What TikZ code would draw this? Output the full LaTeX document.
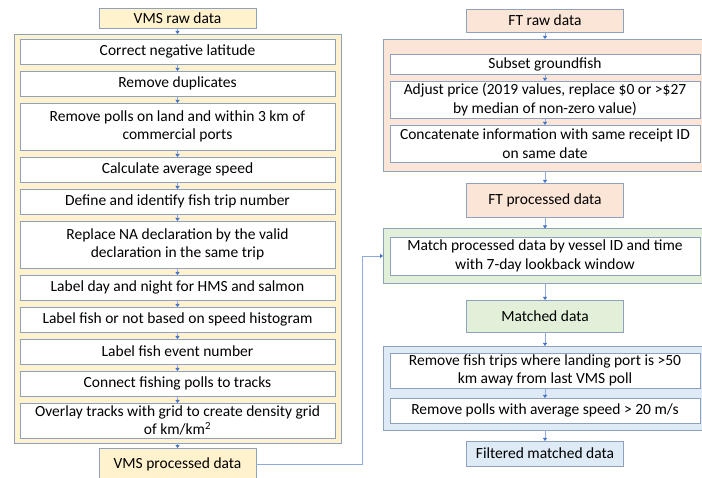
\documentclass[tikz,border=0pt]{standalone}
\usepackage{fontspec}
\setmainfont{Carlito}
\usetikzlibrary{arrows.meta, positioning, fit, backgrounds}
\definecolor{cYel}{HTML}{FFF2CC}
\definecolor{cOra}{HTML}{FBE5D6}
\definecolor{cGrn}{HTML}{E2F0D9}
\definecolor{cBlu}{HTML}{DEEBF7}
\definecolor{cEdge}{HTML}{8EA2BF}
\definecolor{cLine}{HTML}{8FAADC}
\definecolor{cTip}{HTML}{4472C4}

\begin{document}
\begin{tikzpicture}[
  x=1pt, y=-1pt,
  font=\fontsize{15.5}{18.5}\selectfont,
  dat/.style={rectangle, draw=cEdge, line width=0.9pt, fill=#1, minimum width=157pt,
              inner sep=1pt, outer sep=0pt, align=center},
  stepL/.style={rectangle, draw=cEdge, line width=0.9pt, fill=white, minimum width=315pt,
                minimum height=25pt, inner sep=1pt, outer sep=0pt, align=center},
  stepR/.style={stepL, minimum width=310pt},
  group/.style={draw=cEdge, line width=0.9pt, fill=#1, outer sep=0pt},
  flow/.style={-{Triangle[length=3pt, width=4pt, color=cTip]}, line width=0.9pt, draw=cLine},
]
\useasboundingbox (0,0) rectangle (702,478);

% =========================== LEFT : VMS ===========================
\node[dat=cYel, minimum height=20pt] (vraw) at (177.5,18) {VMS raw data};
\node[stepL, below=11pt of vraw] (v1) {Correct negative latitude};
\node[stepL, below=7pt of v1]  (v2) {Remove duplicates};
\node[stepL, below=7pt of v2, minimum height=47pt] (v3) {Remove polls on land and within 3 km of\\commercial ports};
\node[stepL, below=7pt of v3]  (v4) {Calculate average speed};
\node[stepL, below=7pt of v4]  (v5) {Define and identify fish trip number};
\node[stepL, below=7pt of v5, minimum height=47pt] (v6) {Replace NA declaration by the valid\\declaration in the same trip};
\node[stepL, below=7pt of v6]  (v7) {Label day and night for HMS and salmon};
\node[stepL, below=7pt of v7]  (v8) {Label fish or not based on speed histogram};
\node[stepL, below=7pt of v8]  (v9) {Label fish event number};
\node[stepL, below=7pt of v9]  (v10) {Connect fishing polls to tracks};
\node[stepL, below=7pt of v10, minimum height=35pt] (v11) {Overlay tracks with grid to create density grid\\of km/km\textsuperscript{2}};
\node[dat=cYel, below=10pt of v11, minimum height=32pt] (vproc) {VMS processed data};

\begin{scope}[on background layer]
  \node[group=cYel, fit=(v1)(v11), inner xsep=6pt, inner ysep=5pt] (vbox) {};
\end{scope}

\draw[flow] (vraw.south) -- (vbox.north);
\foreach \a/\b in {v1/v2, v2/v3, v3/v4, v4/v5, v5/v6, v6/v7, v7/v8, v8/v9, v9/v10, v10/v11}
  \draw[flow] (\a) -- (\b);
\draw[flow] (vbox.south) -- (vproc.north);

% =========================== RIGHT : FT ===========================
\node[dat=cOra, minimum height=23pt] (ftraw) at (545,20.5) {FT raw data};
\node[stepR, below=22pt of ftraw, minimum height=20pt] (osub) {Subset groundfish};
\node[stepR, below=7pt of osub, minimum height=37pt] (oadj) {Adjust price (2019 values, replace \$0 or >\$27\\by median of non-zero value)};
\node[stepR, below=7pt of oadj, minimum height=37pt] (ocat) {Concatenate information with same receipt ID\\on same date};
\coordinate[above=6pt of osub] (otop);
\node[dat=cOra, below=21pt of ocat, minimum height=34pt] (ftproc) {FT processed data};

\node[stepR, below=20pt of ftproc, minimum height=38pt] (gmatch) {Match processed data by vessel ID and time\\with 7-day lookback window};
\node[dat=cGrn, below=25pt of gmatch, minimum height=32pt] (matched) {Matched data};

\node[stepR, below=21pt of matched, minimum height=35pt] (bdist) {Remove fish trips where landing port is >50\\km away from last VMS poll};
\node[stepR, below=10pt of bdist] (bspeed) {Remove polls with average speed > 20 m/s};
\node[dat=cBlu, below=18pt of bspeed, minimum height=25pt] (filt) {Filtered matched data};

\begin{scope}[on background layer]
  \node[group=cOra, fit=(otop)(osub)(ocat), inner xsep=7pt, inner ysep=9pt] (obox) {};
  \node[group=cGrn, fit=(gmatch), inner xsep=7pt, inner ysep=8.5pt] (gbox) {};
  \node[group=cBlu, fit=(bdist)(bspeed), inner xsep=7pt, inner ysep=7pt] (bbox) {};
\end{scope}

\draw[flow] (ftraw.south) -- (obox.north);
\foreach \a/\b in {osub/oadj, oadj/ocat, bdist/bspeed}
  \draw[flow] (\a) -- (\b);
\draw[flow] (obox.south) -- (ftproc.north);
\draw[flow] (ftproc.south) -- (gbox.north);
\draw[flow] (gbox.south) -- (matched.north);
\draw[flow] (matched.south) -- (bbox.north);
\draw[flow] (bbox.south) -- (filt.north);

% VMS processed -> matching
\draw[flow] (vproc.east) -- ++(106pt,0) |- (gbox.west);

\end{tikzpicture}
\end{document}
